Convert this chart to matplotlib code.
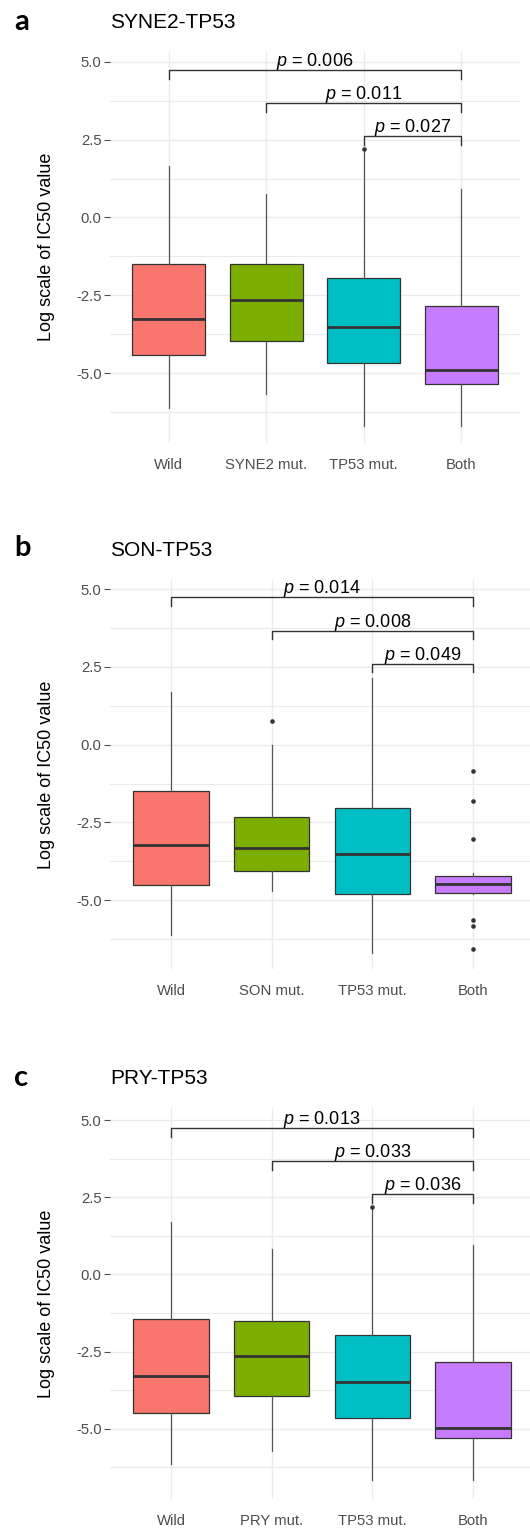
import matplotlib
matplotlib.use("Agg")
import matplotlib.pyplot as plt

plt.rcParams['font.family'] = ['Liberation Sans', 'DejaVu Sans']
plt.rcParams['mathtext.fontset'] = 'custom'
plt.rcParams['mathtext.rm'] = 'Liberation Sans'
plt.rcParams['mathtext.it'] = 'Liberation Sans:italic'

# ---- data ----
fill_colors = ['#F8766D', '#7CAE00', '#00BFC4', '#C77CFF']

# panel a: SYNE2-TP53
labels_a = ['Wild', 'SYNE2 mut.', 'TP53 mut.', 'Both']
whislo_a = [-6.14, -5.68, -6.69, -6.69]
q1_a = [-4.42, -3.97, -4.69, -5.34]
med_a = [-3.25, -2.66, -3.52, -4.90]
q3_a = [-1.48, -1.48, -1.96, -2.86]
whishi_a = [1.67, 0.77, 2.12, 0.90]
fliers_a = [[], [], [2.20], []]
pvals_a = ['0.006', '0.011', '0.027']

# panel b: SON-TP53
labels_b = ['Wild', 'SON mut.', 'TP53 mut.', 'Both']
whislo_b = [-6.11, -4.71, -6.72, -4.80]
q1_b = [-4.52, -4.06, -4.81, -4.76]
med_b = [-3.22, -3.32, -3.52, -4.50]
q3_b = [-1.49, -2.33, -2.03, -4.22]
whishi_b = [1.69, 0.0, 2.13, -4.13]
fliers_b = [[], [0.76], [], [-0.85, -1.80, -3.03, -5.64, -5.82, -6.58]]
pvals_b = ['0.014', '0.008', '0.049']

# panel c: PRY-TP53
labels_c = ['Wild', 'PRY mut.', 'TP53 mut.', 'Both']
whislo_c = [-6.13, -5.72, -6.67, -6.67]
q1_c = [-4.48, -3.95, -4.66, -5.30]
med_c = [-3.29, -2.63, -3.47, -4.96]
q3_c = [-1.43, -1.51, -1.97, -2.82]
whishi_c = [1.69, 0.81, 2.12, 0.94]
fliers_c = [[], [], [2.20], []]
pvals_c = ['0.013', '0.033', '0.036']

# comparison brackets: (group i, group j) and bracket height
pairs = [(1, 4), (2, 4), (3, 4)]
bracket_y = [4.74, 3.67, 2.61]

panels = [
    ('a', 'SYNE2-TP53', labels_a, whislo_a, q1_a, med_a, q3_a, whishi_a, fliers_a, pvals_a),
    ('b', 'SON-TP53', labels_b, whislo_b, q1_b, med_b, q3_b, whishi_b, fliers_b, pvals_b),
    ('c', 'PRY-TP53', labels_c, whislo_c, q1_c, med_c, q3_c, whishi_c, fliers_c, pvals_c),
]

# ---- layout (pixels) ----
W, H = 530, 1530
# left, right, top, bottom, ylim, xlim
boxes_px = [
    (110, 520, 51.7, 442.7, (-7.24, 5.33), (0.4, 4.6)),
    (110, 530, 580, 969, (-7.22, 5.30), (0.394, 4.566)),
    (110, 530, 1108.3, 1499, (-7.27, 5.38), (0.394, 4.566)),
]
letter_y = [22, 548, 1078]
title_y = [22, 550, 1078]

fig = plt.figure(figsize=(W / 100, H / 100), dpi=100)
fig.patch.set_facecolor('white')

for k, (letter, title, labels, wlo, q1, med, q3, whi, fl, pv) in enumerate(panels):
    l, r, t, b, ylim, xlim = boxes_px[k]
    ax = fig.add_axes([l / W, 1 - b / H, (r - l) / W, (b - t) / H])

    stats = []
    for i in range(4):
        stats.append(dict(whislo=wlo[i], q1=q1[i], med=med[i], q3=q3[i],
                          whishi=whi[i], fliers=fl[i], label=labels[i]))
    pos = [1, 2, 3, 4]
    bp = ax.bxp(stats, positions=pos, widths=0.75, patch_artist=True,
                showcaps=False, showfliers=True, zorder=3,
                boxprops=dict(edgecolor='#333333', linewidth=0.9),
                medianprops=dict(color='#333333', linewidth=2.0),
                whiskerprops=dict(color='#555555', linewidth=0.9),
                flierprops=dict(marker='o', markersize=2.3, markerfacecolor='#333333',
                                markeredgecolor='#333333', linestyle='none'))
    for patch, c in zip(bp['boxes'], fill_colors):
        patch.set_facecolor(c)

    # significance brackets
    for (i, j), yb, p in zip(pairs, bracket_y, pv):
        ax.plot([i, i, j, j], [yb - 0.28, yb, yb, yb - 0.28], color='#333333',
                linewidth=1.0, zorder=4, clip_on=False)
        ax.text((i + j) / 2, yb + 0.13, '$p$ = ' + p, ha='center', va='baseline',
                fontsize=13, color='black', zorder=5)

    ax.set_xlim(*xlim)
    ax.set_ylim(*ylim)
    ax.set_xticks(pos)
    ax.set_xticklabels(labels)
    ax.set_yticks([-5, -2.5, 0, 2.5, 5])
    ax.set_yticklabels(['%.1f' % v for v in [-5, -2.5, 0, 2.5, 5]])
    ax.set_yticks([-6.25, -3.75, -1.25, 1.25, 3.75], minor=True)
    ax.tick_params(axis='y', which='major', length=4, width=0.8, color='#4D4D4D',
                   labelsize=10.7, labelcolor='#4D4D4D', pad=2)
    ax.tick_params(axis='y', which='minor', length=0)
    ax.tick_params(axis='x', length=0, labelsize=10.7, labelcolor='#4D4D4D', pad=11)
    ax.grid(True, which='major', color='#EBEBEB', linewidth=1.0, zorder=0)
    ax.grid(True, which='minor', axis='y', color='#EBEBEB', linewidth=0.8, zorder=0)
    ax.set_axisbelow(True)
    for s in ax.spines.values():
        s.set_visible(False)

    fig.text(47 / W, 1 - (t + b) / 2 / H, 'Log scale of IC50 value', rotation=90,
             ha='center', va='center', fontsize=13, color='black')
    fig.text(110 / W, 1 - title_y[k] / H, title, ha='left', va='center',
             fontsize=15, color='black')
    fig.text(14 / W, 1 - letter_y[k] / H, letter, ha='left', va='center',
             fontsize=21, fontweight='bold', family=['Lato', 'DejaVu Sans'], color='black')

fig.savefig('out.png', dpi=100, facecolor='white')
